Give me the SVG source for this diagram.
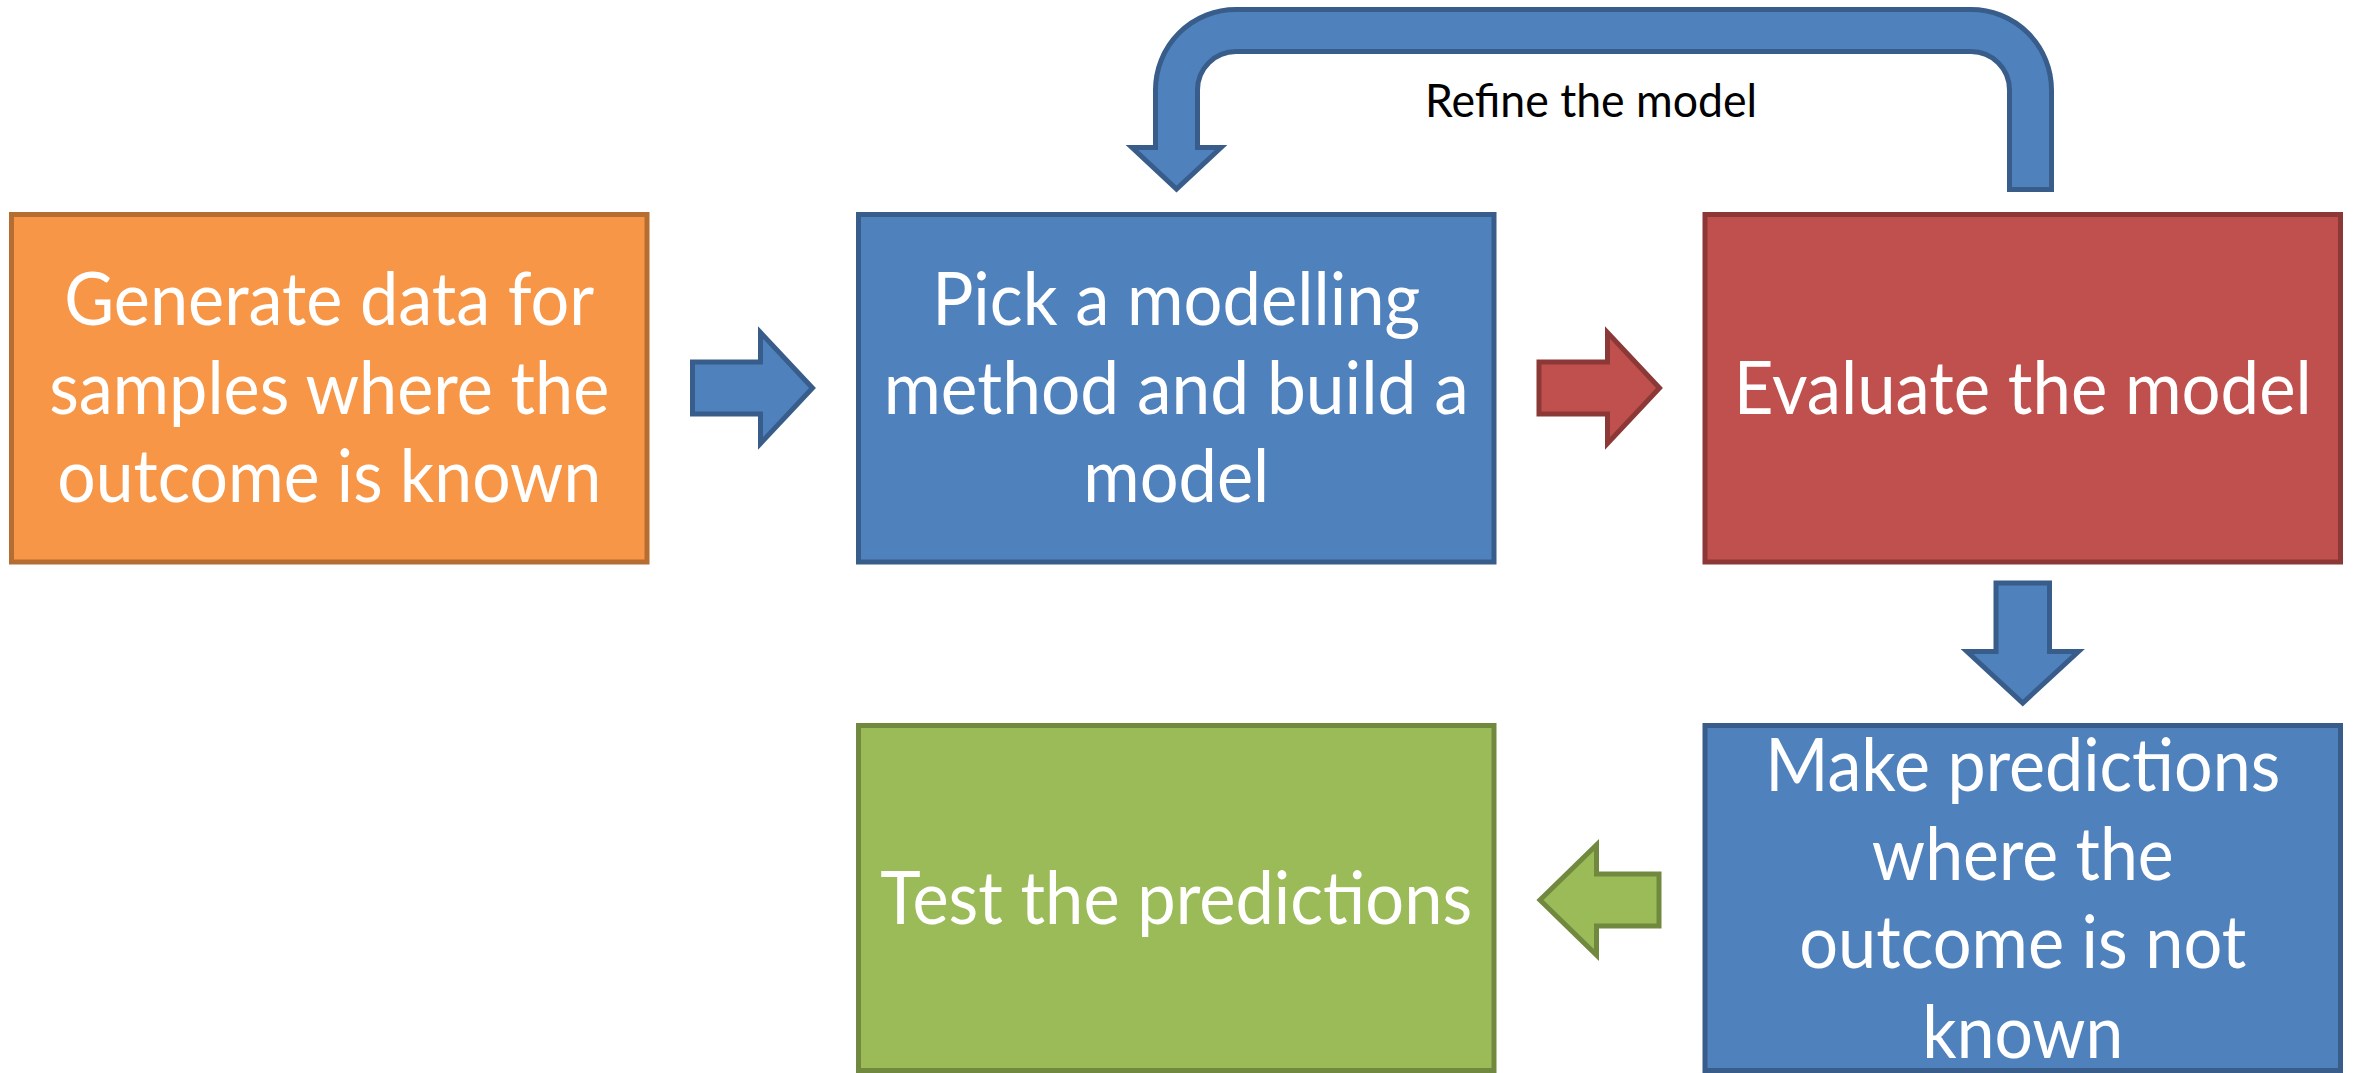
<svg xmlns="http://www.w3.org/2000/svg" width="2354" height="1073" viewBox="0 0 2354 1073">
<style>
.t{font-family:Lato,"Liberation Sans",sans-serif;font-size:73px;fill:#ffffff;text-anchor:middle}
.lbl{font-family:Lato,"Liberation Sans",sans-serif;font-size:46px;fill:#000000;text-anchor:middle}
.orange{fill:#F79646;stroke:#B66D31;stroke-width:5}
.blue{fill:#4F81BD;stroke:#385D8A;stroke-width:5}
.red{fill:#C0504D;stroke:#8C3836;stroke-width:5}
.green{fill:#9BBB59;stroke:#71893F;stroke-width:5}
</style>
<rect width="2354" height="1073" fill="#ffffff"/>
<g id="connectors">
<path class="blue" d="M 2051.5 189.5 L 2051.5 90 A 80.5 80.5 0 0 0 1971 9.5 L 1236 9.5 A 80.5 80.5 0 0 0 1155.5 90 L 1155.5 147.5 L 1132 147.5 L 1176.5 189 L 1221 147.5 L 1197.5 147.5 L 1197.5 90 A 38.5 38.5 0 0 1 1236 51.5 L 1971 51.5 A 38.5 38.5 0 0 1 2009.5 90 L 2009.5 189.5 Z"/>
<text class="lbl" x="1591" y="117" textLength="332" lengthAdjust="spacingAndGlyphs">Refine the model</text>
<polygon class="blue" points="692.5,362 760.5,362 760.5,332.5 812.5,388 760.5,443.5 760.5,414 692.5,414"/>
<polygon class="red" points="1539,362 1607.5,362 1607.5,332.5 1659.5,388 1607.5,443.5 1607.5,414 1539,414"/>
<polygon class="blue" points="1996,583 2049.5,583 2049.5,651.5 2078.5,651.5 2022.75,703 1967,651.5 1996,651.5"/>
<polygon class="green" points="1659,874 1596.5,874 1596.5,845 1540,900 1596.5,955 1596.5,926 1659,926"/>
</g>
<g id="generate">
<rect class="orange" x="11.5" y="214.5" width="635.5" height="347.5"/>
<text class="t" x="329.25" y="325" textLength="530" lengthAdjust="spacingAndGlyphs">Generate data for</text>
<text class="t" x="329.25" y="413.5" textLength="560" lengthAdjust="spacingAndGlyphs">samples where the</text>
<text class="t" x="329.25" y="502" textLength="544" lengthAdjust="spacingAndGlyphs">outcome is known</text>
</g>
<g id="pick">
<rect class="blue" x="858.5" y="214.5" width="635.5" height="347.5"/>
<text class="t" x="1176.25" y="325" textLength="488" lengthAdjust="spacingAndGlyphs">Pick a modelling</text>
<text class="t" x="1176.25" y="413.5" textLength="585" lengthAdjust="spacingAndGlyphs">method and build a</text>
<text class="t" x="1176.25" y="502" textLength="186" lengthAdjust="spacingAndGlyphs">model</text>
</g>
<g id="evaluate">
<rect class="red" x="1705" y="214.5" width="635.5" height="347.5"/>
<text class="t" x="2022.75" y="413.5" textLength="578" lengthAdjust="spacingAndGlyphs">Evaluate the model</text>
</g>
<g id="predict">
<rect class="blue" x="1705" y="725.5" width="635.5" height="345"/>
<text class="t" x="2022.75" y="791" textLength="515" lengthAdjust="spacingAndGlyphs">Make predictions</text>
<text class="t" x="2022.75" y="880" textLength="302" lengthAdjust="spacingAndGlyphs">where the</text>
<text class="t" x="2022.75" y="968" textLength="447" lengthAdjust="spacingAndGlyphs">outcome is not</text>
<text class="t" x="2022.75" y="1058" textLength="201" lengthAdjust="spacingAndGlyphs">known</text>
</g>
<g id="test">
<rect class="green" x="858.5" y="725.5" width="635.5" height="345"/>
<text class="t" x="1176.25" y="924" textLength="592" lengthAdjust="spacingAndGlyphs">Test the predictions</text>
</g>
</svg>
